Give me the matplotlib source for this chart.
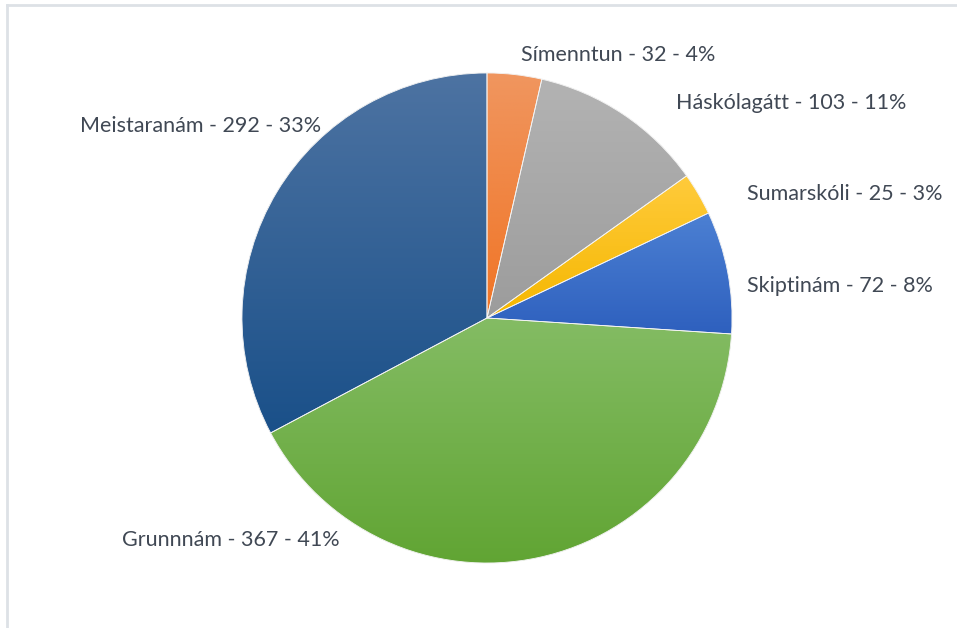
import numpy as np
import matplotlib
matplotlib.use("Agg")
import matplotlib.pyplot as plt
from matplotlib.colors import LinearSegmentedColormap
from matplotlib.lines import Line2D
from matplotlib.patches import PathPatch

# ---- data ----
categories = ["Símenntun", "Háskólagátt", "Sumarskóli", "Skiptinám", "Grunnnám", "Meistaranám"]
values = [32, 103, 25, 72, 367, 292]
pct_labels = ["4%", "11%", "3%", "8%", "41%", "33%"]

# ---- styles ----
top_colors = ["#F0965F", "#B3B3B3", "#FFCB3C", "#4C80D3", "#84BC64", "#4D73A2"]
bot_colors = ["#F07425", "#9C9C9C", "#F5B700", "#2E60BE", "#60A432", "#1A5089"]
# label anchor positions in pixel coords (left x, centre y from top)
label_pos = [(521, 55), (676, 103), (747, 194), (747, 286), (122, 540), (80, 126)]

W, H = 957, 628
fig = plt.figure(figsize=(W / 100, H / 100), dpi=100)
ax = fig.add_axes([0, 0, 1, 1])

cx, cy, r = 487, H - 318, 245
wedges, _ = ax.pie(values, center=(cx, cy), radius=r, startangle=90,
                   counterclock=False, frame=True,
                   wedgeprops=dict(edgecolor="#F4F4F4", linewidth=0.6))
ax.set_xlim(0, W)
ax.set_ylim(0, H)
ax.set_aspect("equal")
ax.axis("off")

grad = np.linspace(0, 1, 256).reshape(-1, 1)
for w, tc, bc in zip(wedges, top_colors, bot_colors):
    verts = w.get_path().vertices
    x0, x1 = verts[:, 0].min(), verts[:, 0].max()
    y0, y1 = verts[:, 1].min(), verts[:, 1].max()
    cmap = LinearSegmentedColormap.from_list("g", [tc, bc])
    w.set_facecolor(bc)
    im = ax.imshow(grad, cmap=cmap, extent=(x0, x1, y0, y1), origin="upper",
                   aspect="auto", zorder=w.get_zorder() + 0.1, interpolation="bilinear")
    im.set_clip_path(w)
for w in wedges:
    ax.add_patch(PathPatch(w.get_path(), transform=w.get_transform(),
                           facecolor="none", edgecolor="#F4F4F4",
                           linewidth=0.6, zorder=5))

for cat, v, pl, (lx, ly) in zip(categories, values, pct_labels, label_pos):
    ax.text(lx, H - ly, f"{cat} - {v} - {pl}", ha="left", va="center",
            fontsize=15.5, color="#404854", family=["Lato", "DejaVu Sans"])

# chart area border (top and left visible)
fig.add_artist(Line2D([7 / W, 7 / W], [0, 1 - 5 / H], transform=fig.transFigure,
                      color="#DDE1E6", linewidth=2))
fig.add_artist(Line2D([7 / W, 1], [1 - 5 / H, 1 - 5 / H], transform=fig.transFigure,
                      color="#DDE1E6", linewidth=2))

fig.savefig("out.png", dpi=100, facecolor="white")
